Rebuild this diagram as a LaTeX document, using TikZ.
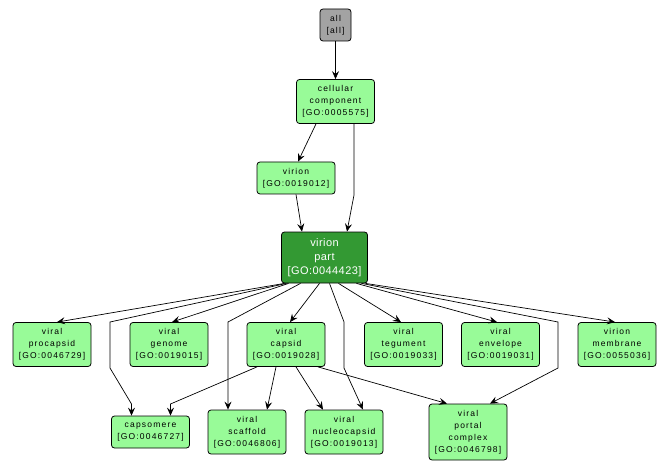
\documentclass[tikz,border=0pt]{standalone}
\usepackage{fontspec}
\setmainfont{Liberation Sans}
\newfontfamily\lblfont[LetterSpace=14]{Liberation Sans}
\newfontfamily\bigfont[LetterSpace=4]{Liberation Sans}
\usetikzlibrary{arrows.meta}
\definecolor{goGreen}{RGB}{152,251,152}
\definecolor{goDark}{RGB}{51,153,51}
\definecolor{goGray}{RGB}{163,163,163}
\tikzset{
  term/.style={draw=black, line width=0.8pt, rounded corners=3pt, fill=goGreen, align=center,
    minimum width=78pt, inner sep=0pt, font=\lblfont\fontsize{8.5}{12}\selectfont},
  one/.style={minimum height=32pt},
  two/.style={minimum height=44pt},
  three/.style={minimum height=56pt},
  focus/.style={draw=black, line width=0.8pt, rounded corners=3pt, fill=goDark, text=white, align=center,
    minimum width=86pt, minimum height=51pt, inner sep=0pt, font=\bigfont\fontsize{11}{14}\selectfont},
  root/.style={draw=black, line width=0.8pt, rounded corners=3pt, fill=goGray, align=center,
    minimum width=31pt, minimum height=32pt, inner sep=0pt, font=\lblfont\fontsize{8.5}{12}\selectfont},
  isa/.style={draw=black, line width=0.7pt, -{Stealth[length=8pt,width=7pt,inset=3pt]}}
}
\begin{document}
\begin{tikzpicture}[x=1pt,y=-1pt]
\useasboundingbox (0,0) rectangle (671,470);
\node[root] (all) at (335.5,25) {all\\{}[all]};
\node[term,two] (cc) at (335.5,101.5) {cellular\\component\\{}[GO:0005575]};
\node[term,one] (virion) at (296,178) {virion\\{}[GO:0019012]};
\node[focus] (vp) at (324.5,257.5) {virion\\part\\{}[GO:0044423]};
\node[term,two] (procapsid) at (52,344.5) {viral\\procapsid\\{}[GO:0046729]};
\node[term,two] (genome) at (169,344.5) {viral\\genome\\{}[GO:0019015]};
\node[term,two] (capsid) at (286,344.5) {viral\\capsid\\{}[GO:0019028]};
\node[term,two] (tegument) at (403.5,344.5) {viral\\tegument\\{}[GO:0019033]};
\node[term,two] (envelope) at (500.5,344.5) {viral\\envelope\\{}[GO:0019031]};
\node[term,two] (membrane) at (617,344.5) {virion\\membrane\\{}[GO:0055036]};
\node[term,one] (capsomere) at (150.5,432) {capsomere\\{}[GO:0046727]};
\node[term,two] (scaffold) at (247,432) {viral\\scaffold\\{}[GO:0046806]};
\node[term,two] (nucleo) at (344,432) {viral\\nucleocapsid\\{}[GO:0019013]};
\node[term,three] (portal) at (468,432) {viral\\portal\\complex\\{}[GO:0046798]};
% waypoints
\coordinate (w1) at (354,195);
\coordinate (w2a) at (110,322);
\coordinate (w2b) at (110,368);
\coordinate (w2c) at (131.5,404);
\coordinate (w3) at (228,322);
\coordinate (w4a) at (344,322);
\coordinate (w4b) at (344,368);
\coordinate (w5a) at (558,322);
\coordinate (w5b) at (558,368);
\coordinate (w6) at (170.5,404);
% edges
\draw[isa] (all) -- (cc);
\draw[isa] ([xshift=-19.5pt]cc.south) -- ([xshift=2pt]virion.north);
\draw[isa] ([xshift=18.5pt]cc.south) -- (w1) -- ([xshift=22.5pt]vp.north);
\draw[isa] (virion.south) -- ([xshift=-22.5pt]vp.north);
\draw[isa] ([xshift=-40pt]vp.south) -- ([xshift=5pt]procapsid.north);
\draw[isa] ([xshift=-38pt]vp.south) -- (w2a) -- (w2b) -- (w2c) -- ([xshift=-19pt]capsomere.north);
\draw[isa] ([xshift=-36pt]vp.south) -- ([xshift=3pt]genome.north);
\draw[isa] ([xshift=-24pt]vp.south) -- (w3) -- ([xshift=-19pt]scaffold.north);
\draw[isa] ([xshift=-5pt]vp.south) -- ([xshift=4pt]capsid.north);
\draw[isa] ([xshift=5pt]vp.south) -- (w4a) -- (w4b) -- ([xshift=19pt]nucleo.north);
\draw[isa] ([xshift=14pt]vp.south) -- ([xshift=-2.5pt]tegument.north);
\draw[isa] ([xshift=32pt]vp.south) -- ([xshift=-3.5pt]envelope.north);
\draw[isa] ([xshift=37pt]vp.south) -- (w5a) -- (w5b) -- ([xshift=22pt]portal.north);
\draw[isa] ([xshift=41pt]vp.south) -- ([xshift=-2pt]membrane.north);
\draw[isa] ([xshift=-29pt]capsid.south) -- (w6) -- ([xshift=20pt]capsomere.north);
\draw[isa] ([xshift=-10pt]capsid.south) -- ([xshift=20pt]scaffold.north);
\draw[isa] ([xshift=10pt]capsid.south) -- ([xshift=-21pt]nucleo.north);
\draw[isa] ([xshift=32pt]capsid.south) -- ([xshift=-21pt]portal.north);
\end{tikzpicture}
\end{document}
